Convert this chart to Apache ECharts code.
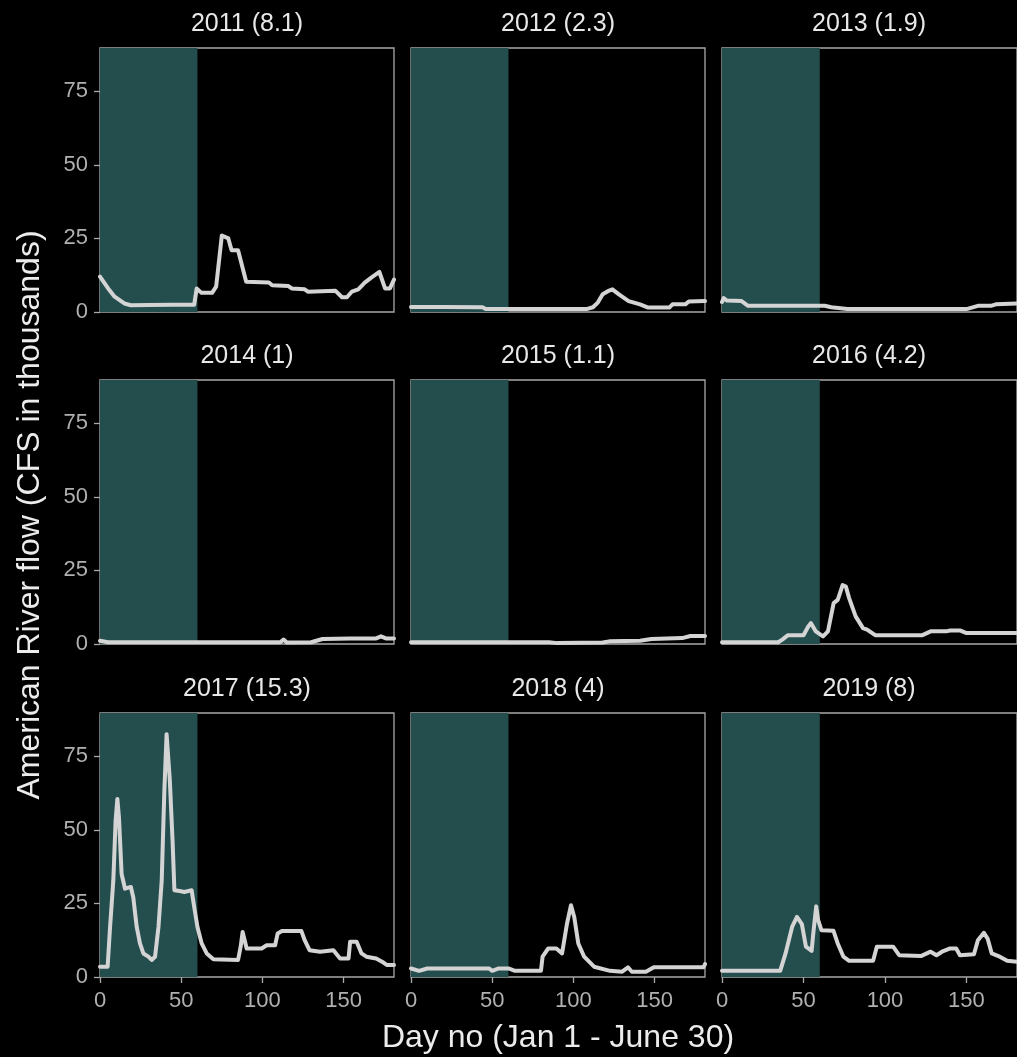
<!DOCTYPE html>
<html><head><meta charset="utf-8">
<script src="https://cdn.jsdelivr.net/npm/echarts@6/dist/echarts.min.js"></script>
<style>html,body{margin:0;padding:0;background:#000;}#c{width:1017px;height:1057px;}</style>
</head><body><div id="c"></div>
<script>
const years = ["2011 (8.1)","2012 (2.3)","2013 (1.9)","2014 (1)","2015 (1.1)","2016 (4.2)","2017 (15.3)","2018 (4)","2019 (8)"];
const xTicks = [0,50,100,150];
const yTicks = [0,25,50,75];
const shadeRange = [0,60];
const flow2011 = [[0,12],[1,11.7],[5,8],[9,5.2],[15,2.9],[19,2.3],[30,2.4],[45,2.5],[58,2.5],[59.5,8],[62.5,6.5],[69,6.5],[71.5,8.6],[75,26],[79,25],[81,21],[85,21],[90,10.3],[104,10],[106,9.1],[116,8.8],[118,8],[126,7.7],[128,6.9],[145,7.2],[149,5],[152,5],[155,6.9],[159,7.7],[163,10],[167,11.7],[172,13.6],[175.5,8],[178.5,8],[181,11]];
const flow2012 = [[0,1.7],[20,1.7],[44,1.6],[46,1.0],[80,1.0],[108,1.0],[112,1.6],[115,3.2],[118,6],[122,7.3],[124,7.7],[128,6],[134,3.7],[141,2.6],[146,1.5],[159,1.5],[161,2.6],[169,2.6],[171,3.6],[181,3.7]];
const flow2013 = [[0,3.4],[1,4.7],[3,3.9],[12,3.7],[16,2.1],[63,2.1],[67,1.6],[77,1.0],[150,1.0],[157,2.1],[165,2.1],[168,2.6],[181,2.9]];
const flow2014 = [[0,1.1],[5,0.6],[39,0.6],[40,1.1],[41,0.6],[63,0.6],[64,0.9],[65,0.6],[111,0.6],[113,1.5],[115,0.5],[130,0.6],[137,1.7],[154,1.9],[170,1.9],[173,2.6],[176,1.9],[181,1.9]];
const flow2015 = [[0,0.6],[85,0.6],[90,0.3],[118,0.5],[122,0.9],[141,1.1],[148,1.7],[167,2.0],[172,2.7],[181,2.7]];
const flow2016 = [[0,0.6],[34.5,0.6],[37,1.5],[40.5,3],[50,3],[53,6],[54.5,7.1],[57.5,4.3],[62,2.6],[65,4.3],[68.5,13.9],[71,15],[74,20],[76,19.5],[78,15.6],[82,9.4],[86.5,5.4],[89,4.9],[94,3],[123,3],[128,4.3],[137.5,4.3],[140,4.6],[146,4.6],[150,3.7],[181,3.7]];
const flow2017 = [[0,3.5],[4.7,3.5],[6.2,17],[8.2,32.8],[9.6,53],[10.7,60.5],[11.7,54],[13.3,35],[15.4,30],[19,30.6],[20.5,27],[22.6,17],[24.6,11.4],[26.7,8],[29.8,6.9],[31.8,5.8],[33.9,6.9],[36,17],[38,32.8],[39.6,63],[41,82.5],[43,66.7],[44.7,46],[45.8,29.5],[49,29.2],[52,28.9],[56.4,29.5],[58,23.8],[60,17],[62.6,11.4],[65.7,8],[69.8,6],[85,5.8],[86.6,10.3],[87.8,15.3],[90.3,9.7],[99.5,9.7],[102.6,10.8],[107.8,10.8],[109.4,14.8],[112,15.6],[124,15.6],[126,12.5],[129,9.1],[135.5,8.6],[143.7,9.1],[147.8,6.3],[153,6.3],[154,12],[158,12],[161,8],[164,6.9],[170,6.3],[174.5,4.9],[176.5,4.1],[181,4.1]];
const flow2018 = [[0,2.9],[1,2.9],[5,2.1],[10,2.9],[48,2.9],[50,2.1],[54,2.9],[60,2.9],[64,2.1],[80,2.1],[81,6.9],[84.5,9.7],[89.5,9.7],[93,8],[96,18],[98.5,24.4],[100.5,20.4],[103,11.4],[106.6,6.9],[112.7,3.5],[122.5,2.1],[130,1.8],[133.6,3.3],[136,1.8],[144.6,1.8],[149.5,3.3],[180,3.3],[181,4.4]];
const flow2019 = [[0,2.1],[35.7,2.1],[39,8],[43,17],[46,20.4],[49,18],[51.5,10.3],[55,8.9],[56,14.8],[57.8,24],[59,19.3],[61,15.9],[68.4,15.7],[71,11.4],[74.5,6.9],[78,5.5],[92.7,5.5],[95,10.3],[105,10.3],[108.7,7.4],[122,7.1],[128,8.6],[131.6,7.4],[135,8.6],[140,9.7],[143.7,9.7],[146,7.4],[154.6,7.7],[157,12.5],[160.7,15],[163,13],[165.5,8],[170.4,6.9],[175,5.5],[181,5.2]];
const allFlows = [flow2011,flow2012,flow2013,flow2014,flow2015,flow2016,flow2017,flow2018,flow2019];

const colLeft = [100, 411, 722];
const rowTop = [48, 380, 713];
const pw = 294, ph = 264;
const FONT = 'Liberation Sans, Arial, sans-serif';

const grids = [], xAxes = [], yAxes = [], series = [], graphics = [];
allFlows.forEach((d, i) => {
  const r = Math.floor(i / 3), c = i % 3;
  grids.push({left: colLeft[c], top: rowTop[r], width: c === 2 ? pw + 2 : pw, height: ph,
    show: true, borderColor: '#a8a8a8', borderWidth: 1.3, backgroundColor: 'transparent', containLabel: false});
  xAxes.push({type: 'value', gridIndex: i, min: 0, max: 181, interval: 50,
    axisLine: {show: false}, splitLine: {show: false},
    axisTick: {show: r === 2, length: 6, lineStyle: {color: '#a8a8a8', width: 1.3}, customValues: xTicks},
    axisLabel: {show: r === 2, color: '#b0b0b0', fontSize: 22, fontFamily: FONT, margin: 13, customValues: xTicks}});
  yAxes.push({type: 'value', gridIndex: i, min: 0, max: 89.7, interval: 25,
    axisLine: {show: false}, splitLine: {show: false},
    axisTick: {show: c === 0, length: 6, lineStyle: {color: '#a8a8a8', width: 1.3}, customValues: yTicks},
    axisLabel: {show: c === 0, color: '#b0b0b0', fontSize: 22, fontFamily: FONT, margin: 12, customValues: yTicks}});
  series.push({type: 'line', xAxisIndex: i, yAxisIndex: i, data: d, showSymbol: false, clip: true,
    lineStyle: {color: '#d4d4d4', width: 4, join: 'round', cap: 'round'}, itemStyle: {color: '#d4d4d4'},
    markArea: {silent: true, itemStyle: {color: '#244d4e'}, data: [[{xAxis: shadeRange[0]}, {xAxis: shadeRange[1]}]]},
    z: 3});
  graphics.push({type: 'text',
    style: {x: colLeft[c] + pw / 2, y: rowTop[r] - 24, text: years[i], fill: '#e8e8e8', font: '25px ' + FONT, textAlign: 'center', textVerticalAlign: 'middle'}});
});
graphics.push({type: 'text', style: {x: 558, y: 1038, text: 'Day no (Jan 1 - June 30)', fill: '#ececec', font: '32px ' + FONT, textAlign: 'center', textVerticalAlign: 'middle'}});
graphics.push({type: 'text', x: 30, y: 515, rotation: Math.PI / 2, style: {x: 0, y: 0, text: 'American River flow (CFS in thousands)', fill: '#ececec', font: '32px ' + FONT, textAlign: 'center', textVerticalAlign: 'middle'}});

const chart = echarts.init(document.getElementById('c'), null, {renderer: 'canvas'});
chart.setOption({backgroundColor: '#000', animation: false, grid: grids, xAxis: xAxes, yAxis: yAxes, series: series, graphic: graphics});
</script></body></html>
